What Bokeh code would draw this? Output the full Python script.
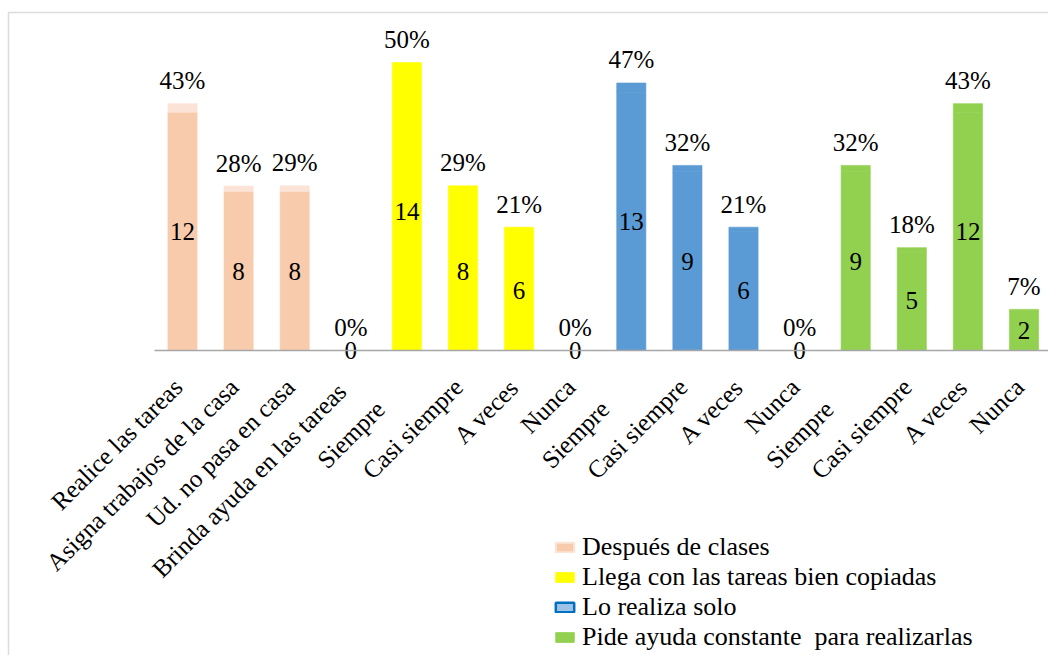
import math
from bokeh.plotting import figure
from bokeh.models import (ColumnDataSource, Range1d, FixedTicker,
                          Legend, LegendItem, BoxAnnotation)
from bokeh.embed import file_html
from bokeh.resources import INLINE

# ---------------- data ----------------
categories = ["Realice las tareas", "Asigna trabajos de la casa", "Ud. no pasa en casa",
              "Brinda  ayuda en las tareas",
              "Siempre", "Casi siempre", "A veces", "Nunca",
              "Siempre", "Casi siempre", "A veces", "Nunca",
              "Siempre", "Casi siempre", "A veces", "Nunca"]
counts = [12, 8, 8, 0, 14, 8, 6, 0, 13, 9, 6, 0, 9, 5, 12, 2]
percents = [43, 28, 29, 0, 50, 29, 21, 0, 47, 32, 21, 0, 32, 18, 43, 7]
series = ["Después de clases", "Llega con las tareas bien copiadas",
          "Lo realiza solo", "Pide ayuda constante  para realizarlas"]
series_index = [0, 0, 0, 0, 1, 1, 1, 1, 2, 2, 2, 2, 3, 3, 3, 3]

# ---------------- styles ----------------
FONT = "Liberation Serif"
FS = "25px"
LEG_FS = "26px"
bar_colors = ["#F8CBAD", "#FFFF00", "#5B9BD5", "#92D050"]
band_colors = ["#FBE3D6", "#FFFF00", "#5B9BD5", "#92D050"]
legend_fill = ["#F8CBAD", "#FFFF00", "#9DC3E6", "#92D050"]
legend_line = ["#FBE5D6", "#FFFF00", "#0070C0", "#92D050"]
legend_line_w = [2, 1, 2.5, 1]
# trailing padding (non-breaking spaces) of the rotated tick labels,
# mimicking the source sheet where "Siempre" carried trailing blanks
label_pad = {"Siempre": 6}
default_pad = 1

W, H = 1048, 655
px_per_cat = 56.1          # horizontal spacing of categories (px)
first_center = 182         # px of first category centre
px_per_unit = 19.86        # vertical px per value unit
baseline_px = 350          # px (from top) of the zero line

xs = list(range(len(categories)))
src = ColumnDataSource(dict(
    x=xs,
    count=counts,
    mid=[c / 2 for c in counts],
    top=[c + p / 100 for c, p in zip(counts, percents)],
    count_txt=[str(c) for c in counts],
    pct_txt=[f"{p}%" for p in percents],
    color=[bar_colors[s] for s in series_index],
    band=[band_colors[s] for s in series_index],
    font=[FONT] * len(categories),
))

x0 = -first_center / px_per_cat
x1 = (W - first_center) / px_per_cat
y1 = baseline_px / px_per_unit
y0 = -(H - baseline_px) / px_per_unit

p = figure(width=W, height=H, output_backend="svg", toolbar_location=None,
           x_range=Range1d(x0, x1), y_range=Range1d(y0, y1),
           y_axis_location=None, min_border=0)
p.outline_line_color = None
p.xgrid.visible = False
p.ygrid.visible = False
p.background_fill_color = "white"
p.border_fill_color = "white"

p.vbar(x="x", bottom=0, top="count", width=0.52, source=src,
       fill_color="color", line_color="color", line_width=0.6)
p.vbar(x="x", bottom="count", top="top", width=0.52, source=src,
       fill_color="band", line_color="band", line_width=0.6)

xa = p.xaxis[0]
xa.fixed_location = 0
xa.bounds = (-0.5, x1)
xa.ticker = FixedTicker(ticks=xs)
xa.major_label_overrides = {
    i: c + "\u00a0" * label_pad.get(c, default_pad) for i, c in zip(xs, categories)
}
xa.major_label_orientation = math.pi / 4
xa.major_label_text_font = FONT
xa.major_label_text_font_size = FS
xa.major_label_text_color = "black"
xa.major_label_standoff = 22
xa.axis_line_color = "#A6A6A6"
xa.axis_line_width = 1.5
xa.major_tick_line_color = None
xa.minor_tick_line_color = None

p.text(x="x", y="mid", text="count_txt", source=src,
       text_align="center", text_baseline="middle",
       text_font="font", text_font_size=FS, text_color="black")
p.text(x="x", y="top", text="pct_txt", source=src,
       text_align="center", text_baseline="middle", y_offset=-23,
       text_font="font", text_font_size=FS, text_color="black")

# legend with its own swatch styles (proxy renderers hold a NaN point only)
items = []
for i, name in enumerate(series):
    r = p.vbar(x=[float("nan")], top=[float("nan")], width=0.5,
               fill_color=legend_fill[i], line_color=legend_line[i],
               line_width=legend_line_w[i])
    items.append(LegendItem(label=name, renderers=[r]))
legend = Legend(items=items, location=(553, 3), orientation="vertical",
                label_text_font=FONT, label_text_font_size=LEG_FS,
                label_text_color="black", glyph_width=23, glyph_height=12,
                label_standoff=6, spacing=0, padding=0, margin=0,
                label_height=29, border_line_color=None,
                background_fill_alpha=0)
p.add_layout(legend)

# outer chart border (left and top edges visible, the rest lies off-canvas)
border = BoxAnnotation(left=8, right=W + 20, top=H - 12, bottom=-20,
                       left_units="screen", right_units="screen",
                       top_units="screen", bottom_units="screen",
                       fill_alpha=0, line_color="#8C8C8C", line_width=1.5)
p.add_layout(border)

open("out.html", "w").write(file_html(p, INLINE))
